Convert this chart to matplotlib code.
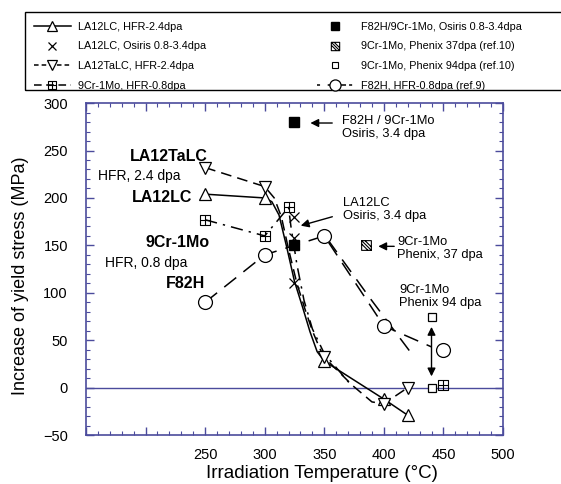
import numpy as np
import matplotlib
matplotlib.use("Agg")
import matplotlib.pyplot as plt
from matplotlib.path import Path
from matplotlib.lines import Line2D
from matplotlib.patches import Rectangle
from matplotlib.ticker import MultipleLocator

plt.rcParams['font.family'] = ['Liberation Sans', 'DejaVu Sans']

# --- data ---
# LA12LC, HFR-2.4dpa (open triangles, solid fit)
la12lc_T = [250, 300, 350, 400, 420]
la12lc_Y = [204, 200, 28, -12, -29]
la12lc_fit_T = [250, 300, 306, 312, 318.5, 325, 332, 338, 344, 350, 400, 420]
la12lc_fit_Y = [204, 200, 196, 182, 148, 112, 84, 59, 38, 28, -12, -29]

# LA12TaLC, HFR-2.4dpa (open down triangles, dashed fit)
la12talc_T = [250, 300, 350, 400, 420]
la12talc_Y = [232, 212, 32, -17, 0]
la12talc_fit_T = [250, 300, 308, 314, 320, 327, 334, 340, 346, 350, 374, 390, 400, 420]
la12talc_fit_Y = [232, 212, 200, 180, 146, 110, 82, 60, 42, 32, 2, -15, -17, 0]

# 9Cr-1Mo, HFR-0.8dpa
cr9_T = [250, 300, 320, 450]
cr9_Y = [177, 160, 190, 3]
cr9_fit_T = [250, 300, 320, 322, 327, 333, 340, 350, 373]
cr9_fit_Y = [177, 160, 190, 170, 130, 92, 62, 36, 2]

# LA12LC, Osiris 0.8-3.4dpa
osiris_T = [325, 325, 325]
osiris_Y = [180, 158, 110]

# F82H/9Cr-1Mo, Osiris 0.8-3.4dpa
f82h_osiris_T = [325, 325]
f82h_osiris_Y = [280, 150]

# 9Cr-1Mo, Phenix
phenix37_T = [385]
phenix37_Y = [150]
phenix94_T = [440, 440]
phenix94_Y = [75, 0]

# F82H, HFR-0.8dpa (ref.9)
f82h_T = [250, 300, 350, 400, 450]
f82h_Y = [90, 140, 160, 65, 40]
f82h_fit_T = [250, 300, 325, 345, 350, 400, 440]
f82h_fit_Y = [90, 140, 150, 158, 160, 65, 43]
f82h_band_T = [353, 388, 425]
f82h_band_Y = [156, 95, 33]

# custom markers
sq_plus = Path([(-1, -1), (1, -1), (1, 1), (-1, 1), (-1, -1),
                (0, -1), (0, 1), (-1, 0), (1, 0)],
               [Path.MOVETO, Path.LINETO, Path.LINETO, Path.LINETO, Path.CLOSEPOLY,
                Path.MOVETO, Path.LINETO, Path.MOVETO, Path.LINETO])
sq_hatch = Path([(-1, -1), (1, -1), (1, 1), (-1, 1), (-1, -1),
                 (-1, 1), (1, -1), (-1, 0.3), (0.3, -1), (-0.3, 1), (1, -0.3)],
                [Path.MOVETO, Path.LINETO, Path.LINETO, Path.LINETO, Path.CLOSEPOLY,
                 Path.MOVETO, Path.LINETO, Path.MOVETO, Path.LINETO, Path.MOVETO, Path.LINETO])

axis_col = '#4b4b9c'
lw = 1.1

fig = plt.figure(figsize=(5.61, 4.84), dpi=100)
ax = fig.add_axes([0.1533, 0.101, 0.7433, 0.686])

# fit curves
ax.plot(la12lc_fit_T, la12lc_fit_Y, color='black', lw=lw, ls='-')
ax.plot(la12talc_fit_T, la12talc_fit_Y, color='black', lw=lw, ls=(0, (7, 4)))
ax.plot(cr9_fit_T, cr9_fit_Y, color='black', lw=lw, ls=(0, (8, 4, 1.5, 4)))
ax.plot(f82h_fit_T, f82h_fit_Y, color='black', lw=lw, ls=(0, (10, 6)))
ax.plot(f82h_band_T, f82h_band_Y, color='black', lw=lw, ls=(0, (10, 6)))

# markers
mk = dict(ls='none', color='black', mfc='white', mew=0.9)
ax.plot(la12lc_T, la12lc_Y, marker='^', ms=8, **mk)
ax.plot(la12talc_T, la12talc_Y, marker='v', ms=8, **mk)
ax.plot(cr9_T, cr9_Y, marker=sq_plus, ms=7, ls='none', color='black', mfc='none', mew=0.8)
ax.plot(osiris_T, osiris_Y, marker='x', ms=7, ls='none', color='black', mew=0.9)
ax.plot(f82h_osiris_T, f82h_osiris_Y, marker='s', ms=7, ls='none', color='black')
ax.plot(phenix37_T, phenix37_Y, marker=sq_hatch, ms=7, ls='none', color='black', mfc='none', mew=0.8)
ax.plot(phenix94_T, phenix94_Y, marker='s', ms=6, **mk)
ax.plot(f82h_T, f82h_Y, marker='o', ms=10, **mk)

ax.axhline(0, color=axis_col, lw=1.0, zorder=0)

# text labels (left)
ax.text(252, 244, 'LA12TaLC', ha='right', va='center', fontsize=11.5, fontweight='bold')
ax.text(229, 223, 'HFR, 2.4 dpa', ha='right', va='center', fontsize=10)
ax.text(239, 201, 'LA12LC', ha='right', va='center', fontsize=11.5, fontweight='bold')
ax.text(254, 153, '9Cr-1Mo', ha='right', va='center', fontsize=11.5, fontweight='bold')
ax.text(235, 131, 'HFR, 0.8 dpa', ha='right', va='center', fontsize=10)
ax.text(250, 110, 'F82H', ha='right', va='center', fontsize=11.5, fontweight='bold')

# annotations (right)
arr = dict(arrowstyle='-|>', color='black', lw=1.0, mutation_scale=12)
ax.text(365, 274, 'F82H / 9Cr-1Mo\nOsiris, 3.4 dpa', ha='left', va='center', fontsize=9.3, linespacing=1.1)
ax.annotate('', xy=(336, 279), xytext=(359, 279), arrowprops=arr)
ax.text(366, 188, 'LA12LC\nOsiris, 3.4 dpa', ha='left', va='center', fontsize=9.3, linespacing=1.1)
ax.annotate('', xy=(328, 170), xytext=(359, 181), arrowprops=arr)
ax.text(411, 147, '9Cr-1Mo\nPhenix, 37 dpa', ha='left', va='center', fontsize=9.3, linespacing=1.1)
ax.annotate('', xy=(393, 149), xytext=(411, 149), arrowprops=arr)
ax.text(413, 96, '9Cr-1Mo\nPhenix 94 dpa', ha='left', va='center', fontsize=9.3, linespacing=1.1)
ax.annotate('', xy=(440, 67), xytext=(440, 9),
            arrowprops=dict(arrowstyle='<|-|>', color='black', lw=1.0, mutation_scale=12))

# axes styling
ax.set_xlim(150, 500)
ax.set_ylim(-50, 300)
ax.xaxis.set_major_locator(MultipleLocator(50))
ax.xaxis.set_minor_locator(MultipleLocator(10))
ax.yaxis.set_major_locator(MultipleLocator(50))
ax.yaxis.set_minor_locator(MultipleLocator(10))
ax.set_xticks([150, 200, 250, 300, 350, 400, 450, 500])
ax.set_xticklabels(['', '', '250', '300', '350', '400', '450', '500'])
for s in ax.spines.values():
    s.set_color(axis_col)
    s.set_linewidth(1.2)
ax.tick_params(which='both', direction='in', top=True, right=True, color=axis_col, labelsize=10.5)
ax.tick_params(which='major', length=6, width=1.0)
ax.tick_params(which='minor', length=3, width=0.8)
ax.tick_params(axis='y', pad=13)
ax.tick_params(axis='x', pad=9)

ax.set_xlabel('Irradiation Temperature (°C)', fontsize=13.5, va='center')
ax.xaxis.set_label_coords(0.566, -0.117)
ax.set_ylabel('Increase of yield stress (MPa)', fontsize=13, va='center')
ax.yaxis.set_label_coords(-0.158, 0.48)

# legend (frame drawn separately; it runs past the right edge of the figure)
handles = [
    Line2D([], [], color='black', lw=lw, marker='^', ms=7, mfc='white', mew=0.9),
    Line2D([], [], color='black', ls='none', marker='x', ms=6, mew=0.9),
    Line2D([], [], color='black', lw=lw, ls=(0, (3, 2)), marker='v', ms=7, mfc='white', mew=0.9),
    Line2D([], [], color='black', lw=lw, ls=(0, (5, 3)), marker=sq_plus, ms=6, mfc='none', mew=0.8),
    Line2D([], [], color='black', ls='none', marker='s', ms=6),
    Line2D([], [], color='black', ls='none', marker=sq_hatch, ms=6, mfc='none', mew=0.8),
    Line2D([], [], color='black', ls='none', marker='s', ms=5, mfc='white', mew=0.8),
    Line2D([], [], color='black', lw=lw, ls=(0, (2, 5, 12, 2)), marker='o', ms=8, mfc='white', mew=0.9),
]
labels = ['LA12LC, HFR-2.4dpa', 'LA12LC, Osiris 0.8-3.4dpa', 'LA12TaLC, HFR-2.4dpa',
          '9Cr-1Mo, HFR-0.8dpa', 'F82H/9Cr-1Mo, Osiris 0.8-3.4dpa',
          '9Cr-1Mo, Phenix 37dpa (ref.10)', '9Cr-1Mo, Phenix 94dpa (ref.10)',
          'F82H, HFR-0.8dpa (ref.9)']
leg = fig.legend(handles, labels, loc='upper left', bbox_to_anchor=(25 / 561, 1 - 13 / 484),
                 ncol=2, fontsize=7.8, handlelength=3.4, handletextpad=0.7,
                 labelspacing=0.9, borderpad=0.8, borderaxespad=0, columnspacing=10.2,
                 frameon=False)
fig.patches.append(Rectangle((25 / 561, 1 - 90 / 484), 560 / 561, 78 / 484,
                             transform=fig.transFigure, fill=False, edgecolor='black', lw=1.0))

fig.savefig('out.png', dpi=100)
